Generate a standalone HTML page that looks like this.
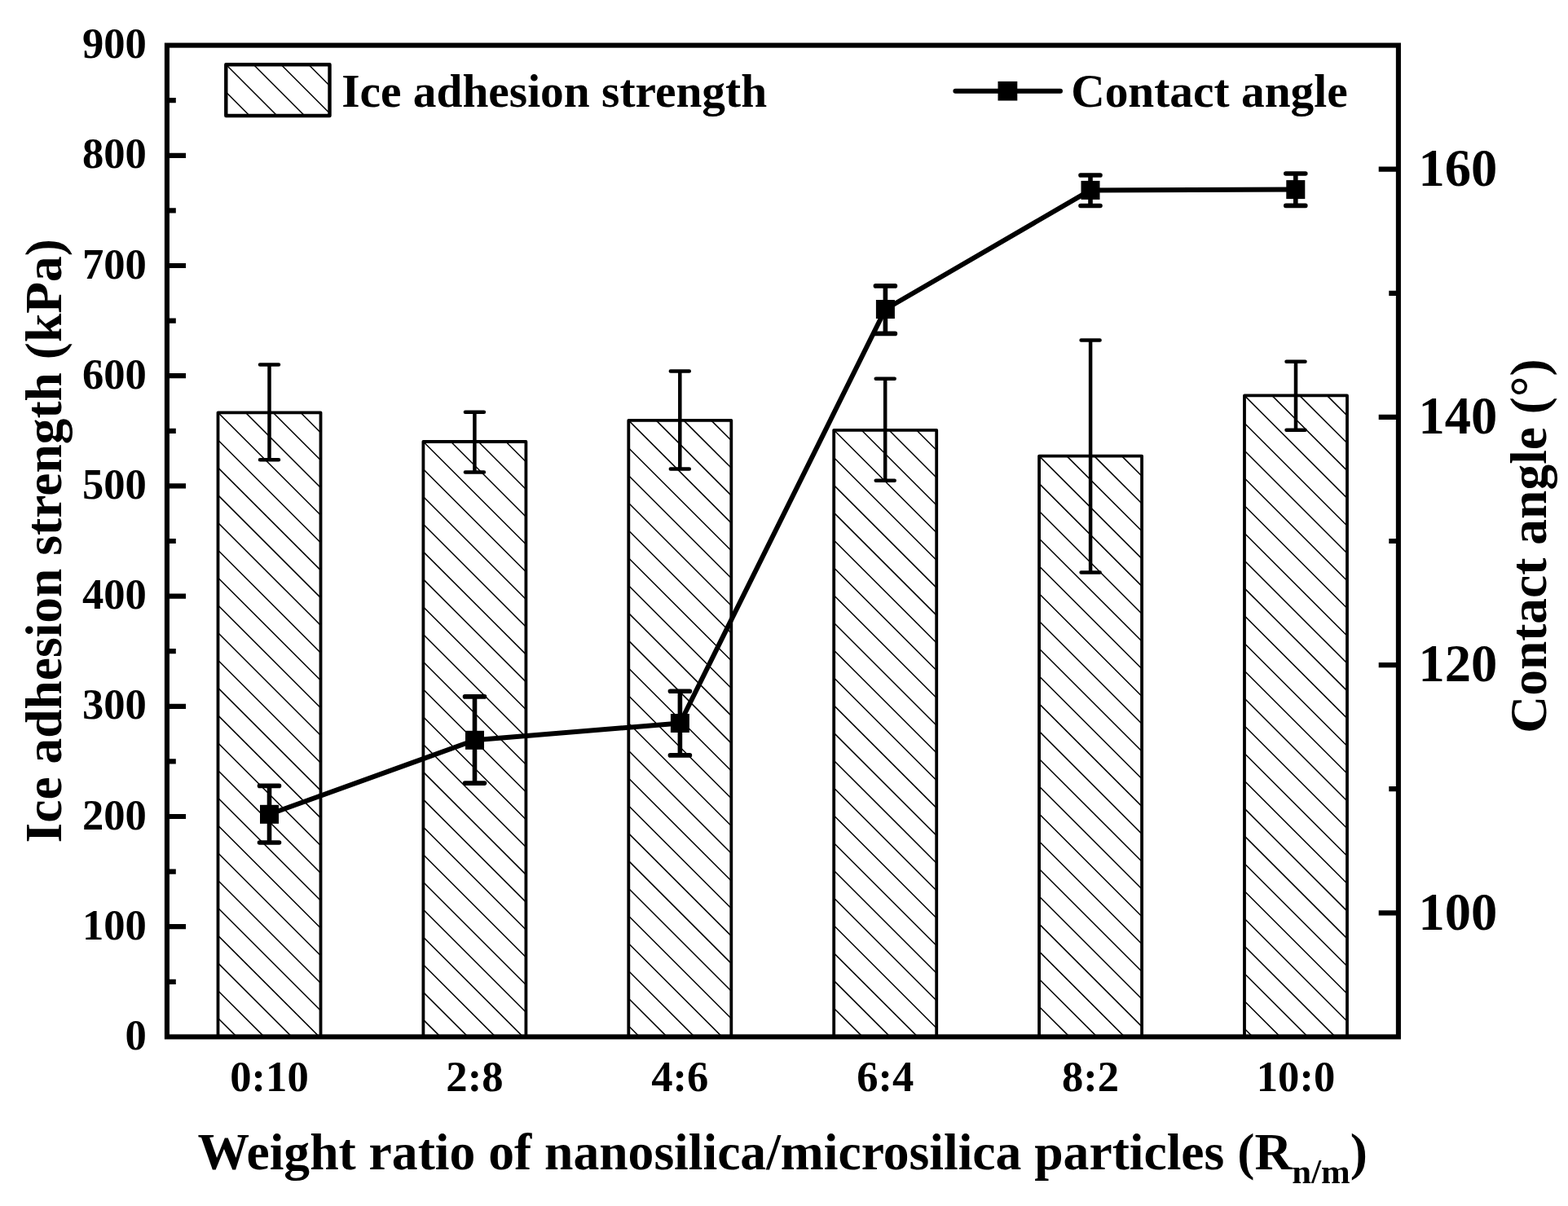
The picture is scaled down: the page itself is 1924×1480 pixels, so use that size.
<!DOCTYPE html>
<html><head><meta charset="utf-8"><title>Ice adhesion strength and contact angle</title><style>
html,body{margin:0;padding:0;background:#fff;}svg{display:block;}
text{font-family:"Liberation Serif",serif;font-weight:bold;fill:#000;}
</style></head><body>
<svg width="1924" height="1480" viewBox="0 0 1924 1480">
<rect x="0" y="0" width="1924" height="1480" fill="#fff"/>
<g id="bars"><path d="M368.84 506.30L393.50 530.96M335.06 506.30L393.50 564.74M301.28 506.30L393.50 598.52M267.50 506.30L393.50 632.30M267.50 540.08L393.50 666.08M267.50 573.86L393.50 699.86M267.50 607.64L393.50 733.64M267.50 641.42L393.50 767.42M267.50 675.20L393.50 801.20M267.50 708.98L393.50 834.98M267.50 742.76L393.50 868.76M267.50 776.54L393.50 902.54M267.50 810.32L393.50 936.32M267.50 844.10L393.50 970.10M267.50 877.88L393.50 1003.88M267.50 911.66L393.50 1037.66M267.50 945.44L393.50 1071.44M267.50 979.22L393.50 1105.22M267.50 1013.00L393.50 1139.00M267.50 1046.78L393.50 1172.78M267.50 1080.56L393.50 1206.56M267.50 1114.34L393.50 1240.34M267.50 1148.12L391.78 1272.40M267.50 1181.90L358.00 1272.40M267.50 1215.68L324.22 1272.40M267.50 1249.46L290.44 1272.40" stroke="#000" stroke-width="1.5" fill="none"/><path d="M267.50 1272.4V506.30H393.50V1272.4" stroke="#000" stroke-width="3.8" fill="none" stroke-linejoin="round"/><path d="M620.74 542.00L645.40 566.66M586.96 542.00L645.40 600.44M553.18 542.00L645.40 634.22M519.40 542.00L645.40 668.00M519.40 575.78L645.40 701.78M519.40 609.56L645.40 735.56M519.40 643.34L645.40 769.34M519.40 677.12L645.40 803.12M519.40 710.90L645.40 836.90M519.40 744.68L645.40 870.68M519.40 778.46L645.40 904.46M519.40 812.24L645.40 938.24M519.40 846.02L645.40 972.02M519.40 879.80L645.40 1005.80M519.40 913.58L645.40 1039.58M519.40 947.36L645.40 1073.36M519.40 981.14L645.40 1107.14M519.40 1014.92L645.40 1140.92M519.40 1048.70L645.40 1174.70M519.40 1082.48L645.40 1208.48M519.40 1116.26L645.40 1242.26M519.40 1150.04L641.76 1272.40M519.40 1183.82L607.98 1272.40M519.40 1217.60L574.20 1272.40M519.40 1251.38L540.42 1272.40" stroke="#000" stroke-width="1.5" fill="none"/><path d="M519.40 1272.4V542.00H645.40V1272.4" stroke="#000" stroke-width="3.8" fill="none" stroke-linejoin="round"/><path d="M872.64 515.90L897.30 540.56M838.86 515.90L897.30 574.34M805.08 515.90L897.30 608.12M771.30 515.90L897.30 641.90M771.30 549.68L897.30 675.68M771.30 583.46L897.30 709.46M771.30 617.24L897.30 743.24M771.30 651.02L897.30 777.02M771.30 684.80L897.30 810.80M771.30 718.58L897.30 844.58M771.30 752.36L897.30 878.36M771.30 786.14L897.30 912.14M771.30 819.92L897.30 945.92M771.30 853.70L897.30 979.70M771.30 887.48L897.30 1013.48M771.30 921.26L897.30 1047.26M771.30 955.04L897.30 1081.04M771.30 988.82L897.30 1114.82M771.30 1022.60L897.30 1148.60M771.30 1056.38L897.30 1182.38M771.30 1090.16L897.30 1216.16M771.30 1123.94L897.30 1249.94M771.30 1157.72L885.98 1272.40M771.30 1191.50L852.20 1272.40M771.30 1225.28L818.42 1272.40M771.30 1259.06L784.64 1272.40" stroke="#000" stroke-width="1.5" fill="none"/><path d="M771.30 1272.4V515.90H897.30V1272.4" stroke="#000" stroke-width="3.8" fill="none" stroke-linejoin="round"/><path d="M1124.54 527.80L1149.20 552.46M1090.76 527.80L1149.20 586.24M1056.98 527.80L1149.20 620.02M1023.20 527.80L1149.20 653.80M1023.20 561.58L1149.20 687.58M1023.20 595.36L1149.20 721.36M1023.20 629.14L1149.20 755.14M1023.20 662.92L1149.20 788.92M1023.20 696.70L1149.20 822.70M1023.20 730.48L1149.20 856.48M1023.20 764.26L1149.20 890.26M1023.20 798.04L1149.20 924.04M1023.20 831.82L1149.20 957.82M1023.20 865.60L1149.20 991.60M1023.20 899.38L1149.20 1025.38M1023.20 933.16L1149.20 1059.16M1023.20 966.94L1149.20 1092.94M1023.20 1000.72L1149.20 1126.72M1023.20 1034.50L1149.20 1160.50M1023.20 1068.28L1149.20 1194.28M1023.20 1102.06L1149.20 1228.06M1023.20 1135.84L1149.20 1261.84M1023.20 1169.62L1125.98 1272.40M1023.20 1203.40L1092.20 1272.40M1023.20 1237.18L1058.42 1272.40M1023.20 1270.96L1024.64 1272.40" stroke="#000" stroke-width="1.5" fill="none"/><path d="M1023.20 1272.4V527.80H1149.20V1272.4" stroke="#000" stroke-width="3.8" fill="none" stroke-linejoin="round"/><path d="M1376.44 559.60L1401.10 584.26M1342.66 559.60L1401.10 618.04M1308.88 559.60L1401.10 651.82M1275.10 559.60L1401.10 685.60M1275.10 593.38L1401.10 719.38M1275.10 627.16L1401.10 753.16M1275.10 660.94L1401.10 786.94M1275.10 694.72L1401.10 820.72M1275.10 728.50L1401.10 854.50M1275.10 762.28L1401.10 888.28M1275.10 796.06L1401.10 922.06M1275.10 829.84L1401.10 955.84M1275.10 863.62L1401.10 989.62M1275.10 897.40L1401.10 1023.40M1275.10 931.18L1401.10 1057.18M1275.10 964.96L1401.10 1090.96M1275.10 998.74L1401.10 1124.74M1275.10 1032.52L1401.10 1158.52M1275.10 1066.30L1401.10 1192.30M1275.10 1100.08L1401.10 1226.08M1275.10 1133.86L1401.10 1259.86M1275.10 1167.64L1379.86 1272.40M1275.10 1201.42L1346.08 1272.40M1275.10 1235.20L1312.30 1272.40M1275.10 1268.98L1278.52 1272.40" stroke="#000" stroke-width="1.5" fill="none"/><path d="M1275.10 1272.4V559.60H1401.10V1272.4" stroke="#000" stroke-width="3.8" fill="none" stroke-linejoin="round"/><path d="M1628.34 485.40L1653.00 510.06M1594.56 485.40L1653.00 543.84M1560.78 485.40L1653.00 577.62M1527.00 485.40L1653.00 611.40M1527.00 519.18L1653.00 645.18M1527.00 552.96L1653.00 678.96M1527.00 586.74L1653.00 712.74M1527.00 620.52L1653.00 746.52M1527.00 654.30L1653.00 780.30M1527.00 688.08L1653.00 814.08M1527.00 721.86L1653.00 847.86M1527.00 755.64L1653.00 881.64M1527.00 789.42L1653.00 915.42M1527.00 823.20L1653.00 949.20M1527.00 856.98L1653.00 982.98M1527.00 890.76L1653.00 1016.76M1527.00 924.54L1653.00 1050.54M1527.00 958.32L1653.00 1084.32M1527.00 992.10L1653.00 1118.10M1527.00 1025.88L1653.00 1151.88M1527.00 1059.66L1653.00 1185.66M1527.00 1093.44L1653.00 1219.44M1527.00 1127.22L1653.00 1253.22M1527.00 1161.00L1638.40 1272.40M1527.00 1194.78L1604.62 1272.40M1527.00 1228.56L1570.84 1272.40M1527.00 1262.34L1537.06 1272.40" stroke="#000" stroke-width="1.5" fill="none"/><path d="M1527.00 1272.4V485.40H1653.00V1272.4" stroke="#000" stroke-width="3.8" fill="none" stroke-linejoin="round"/></g>
<path d="M330.50 447.50V564.30M319.00 447.50H342.00M319.00 564.30H342.00M582.40 505.80V579.50M570.90 505.80H593.90M570.90 579.50H593.90M834.30 455.60V575.60M822.80 455.60H845.80M822.80 575.60H845.80M1086.20 464.70V589.75M1074.70 464.70H1097.70M1074.70 589.75H1097.70M1338.10 417.60V702.50M1326.60 417.60H1349.60M1326.60 702.50H1349.60M1590.00 443.80V527.80M1578.50 443.80H1601.50M1578.50 527.80H1601.50" stroke="#000" stroke-width="4.5" fill="none" stroke-linecap="round"/>
<rect x="204.9" y="55.6" width="1511.00" height="1216.80" fill="none" stroke="#000" stroke-width="6.1" stroke-linejoin="miter"/>
<path d="M204.90 1204.80H215.8M204.90 1137.20H228.0M204.90 1069.60H215.8M204.90 1002.00H228.0M204.90 934.40H215.8M204.90 866.80H228.0M204.90 799.20H215.8M204.90 731.60H228.0M204.90 664.00H215.8M204.90 596.40H228.0M204.90 528.80H215.8M204.90 461.20H228.0M204.90 393.60H215.8M204.90 326.00H228.0M204.90 258.40H215.8M204.90 190.80H228.0M204.90 123.20H215.8M1715.90 1120.30H1691.7M1715.90 968.20H1704.3M1715.90 816.10H1691.7M1715.90 664.00H1704.3M1715.90 511.90H1691.7M1715.90 359.80H1704.3M1715.90 207.70H1691.7" stroke="#000" stroke-width="6.2" fill="none"/>
<polyline points="330.5,999.3 582.5,908.3 834.4,887.5 1086.4,379.5 1338.0,233.4 1589.8,232.6" fill="none" stroke="#000" stroke-width="6.0" stroke-linejoin="round"/>
<path d="M330.50 964.40V1034.00M318.50 964.40H342.50M318.50 1034.00H342.50M582.50 854.90V961.10M570.50 854.90H594.50M570.50 961.10H594.50M834.40 848.20V926.90M822.40 848.20H846.40M822.40 926.90H846.40M1086.40 350.90V409.40M1074.40 350.90H1098.40M1074.40 409.40H1098.40M1338.00 215.05V252.50M1326.00 215.05H1350.00M1326.00 252.50H1350.00M1589.80 213.00V252.40M1577.80 213.00H1601.80M1577.80 252.40H1601.80" stroke="#000" stroke-width="5.6" fill="none" stroke-linecap="round"/>
<rect x="319.00" y="987.80" width="23.0" height="23.0" fill="#000"/>
<rect x="571.00" y="896.80" width="23.0" height="23.0" fill="#000"/>
<rect x="822.90" y="876.00" width="23.0" height="23.0" fill="#000"/>
<rect x="1074.90" y="368.00" width="23.0" height="23.0" fill="#000"/>
<rect x="1326.50" y="221.90" width="23.0" height="23.0" fill="#000"/>
<rect x="1578.30" y="221.10" width="23.0" height="23.0" fill="#000"/>
<path d="M378.64 79.30L404.50 105.16M344.86 79.30L404.50 138.94M311.08 79.30L373.78 142.00M277.30 79.30L340.00 142.00M277.30 113.08L306.22 142.00" stroke="#000" stroke-width="1.5" fill="none"/>
<rect x="277.3" y="79.3" width="127.20" height="62.70" fill="none" stroke="#000" stroke-width="4.4" stroke-linejoin="round"/>
<path d="M1172.4 111.7H1301" stroke="#000" stroke-width="6" stroke-linecap="round"/>
<rect x="1224.50" y="99.90" width="23.8" height="23.6" fill="#000"/>
<text x="419.2" y="130.9" font-size="57.4">Ice adhesion strength</text>
<text x="1314.2" y="130.9" font-size="57.4">Contact angle</text>
<text x="179.9" y="1287.9" font-size="52.6" text-anchor="end">0</text>
<text x="179.9" y="1152.7" font-size="52.6" text-anchor="end">100</text>
<text x="179.9" y="1017.5" font-size="52.6" text-anchor="end">200</text>
<text x="179.9" y="882.3" font-size="52.6" text-anchor="end">300</text>
<text x="179.9" y="747.1" font-size="52.6" text-anchor="end">400</text>
<text x="179.9" y="611.9" font-size="52.6" text-anchor="end">500</text>
<text x="179.9" y="476.7" font-size="52.6" text-anchor="end">600</text>
<text x="179.9" y="341.5" font-size="52.6" text-anchor="end">700</text>
<text x="179.9" y="206.3" font-size="52.6" text-anchor="end">800</text>
<text x="179.9" y="71.1" font-size="52.6" text-anchor="end">900</text>
<text x="1740.5" y="1140.5" font-size="64.5">100</text>
<text x="1740.5" y="836.3" font-size="64.5">120</text>
<text x="1740.5" y="532.1" font-size="64.5">140</text>
<text x="1740.5" y="227.9" font-size="64.5">160</text>
<text x="330.5" y="1339" font-size="52.6" text-anchor="middle">0:10</text>
<text x="582.4" y="1339" font-size="52.6" text-anchor="middle">2:8</text>
<text x="834.3" y="1339" font-size="52.6" text-anchor="middle">4:6</text>
<text x="1086.2" y="1339" font-size="52.6" text-anchor="middle">6:4</text>
<text x="1338.1" y="1339" font-size="52.6" text-anchor="middle">8:2</text>
<text x="1590.0" y="1339" font-size="52.6" text-anchor="middle">10:0</text>
<text transform="translate(74.5 1034.5) rotate(-90)" font-size="63.5">Ice adhesion strength (kPa)</text>
<text transform="translate(1897 899.7) rotate(-90)" font-size="63.5">Contact angle (°)</text>
<text x="242.4" y="1434.5" font-size="63.6">Weight ratio of nanosilica/microsilica particles (R<tspan font-size="42.8" dy="17">n/m</tspan><tspan dy="-17">)</tspan></text>
</svg></body></html>
